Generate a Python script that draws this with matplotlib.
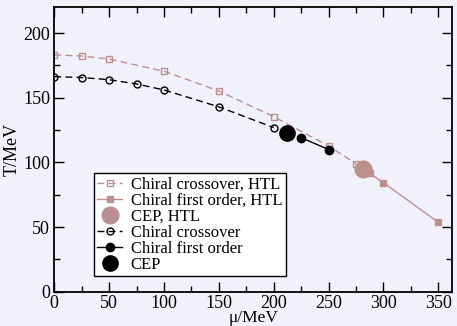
import matplotlib.pyplot as plt

# Chiral transition, HTL
mu_htl_cross = [0, 25, 50, 100, 150, 200, 250, 275]
T_htl_cross = [183.2, 182.3, 180.0, 170.5, 155.3, 135.4, 112.8, 99.0]
mu_htl_first = [287.5, 300, 350]
T_htl_first = [91.5, 84.4, 53.7]
mu_htl_cep = [281]
T_htl_cep = [95]

# Chiral transition, no HTL
mu_cross = [0, 25, 50, 75, 100, 150, 200]
T_cross = [166.4, 165.7, 164.0, 160.7, 156.1, 143.0, 127.0]
mu_first = [225, 250]
T_first = [119.2, 110.0]
mu_cep = [212.5]
T_cep = [122.8]

bg = '#f1f1fb'
htl = '#bc8f8f'

plt.rcParams['font.family'] = ['Liberation Serif', 'DejaVu Serif']

fig = plt.figure(figsize=(4.57, 3.26), dpi=100, facecolor=bg)
ax = fig.add_axes([0.1188, 0.105, 0.8702, 0.8726], facecolor=bg)

ax.plot(mu_htl_cross, T_htl_cross, ls=(0, (5, 3)), color=htl, lw=1,
        marker='s', ms=5, mfc='none', mec=htl, mew=1, label='Chiral crossover, HTL')
ax.plot(mu_htl_first, T_htl_first, ls='-', color=htl, lw=1,
        marker='s', ms=5, mfc=htl, mec=htl, label='Chiral first order, HTL')
ax.plot(mu_htl_cep, T_htl_cep, ls='none', marker='o', ms=12, color=htl,
        label='CEP, HTL')
ax.plot(mu_cross, T_cross, ls=(0, (5, 3)), color='black', lw=1,
        marker='o', ms=5, mfc='none', mec='black', mew=1, label='Chiral crossover')
ax.plot(mu_first, T_first, ls='-', color='black', lw=1,
        marker='o', ms=6, mfc='black', label='Chiral first order')
ax.plot(mu_cep, T_cep, ls='none', marker='o', ms=11, color='black', label='CEP')

ax.set_xlim(0, 362.5)
ax.set_ylim(0, 220)
ax.set_xticks([0, 50, 100, 150, 200, 250, 300, 350])
ax.set_xticks(range(25, 360, 50), minor=True)
ax.set_yticks([0, 50, 100, 150, 200])
ax.set_yticks([25, 75, 125, 175], minor=True)
ax.tick_params(which='both', direction='in', top=True, right=True, labelsize=13, width=1)
ax.tick_params(which='major', length=7, pad=3)
ax.tick_params(axis='x', which='major', pad=2)
ax.tick_params(which='minor', length=4)
for s in ax.spines.values():
    s.set_linewidth(1.3)

ax.set_xlabel('μ/MeV', fontsize=12.5, labelpad=-1)
ax.set_ylabel('T/MeV', fontsize=13, labelpad=2)

leg = ax.legend(loc='lower left', bbox_to_anchor=(0.1, 0.056), fontsize=12,
                frameon=True, fancybox=False, edgecolor='black', framealpha=1,
                facecolor='white', handlelength=1.5, handletextpad=0.5,
                labelspacing=0.0, borderpad=0.2, borderaxespad=0)
leg.get_frame().set_linewidth(1)

fig.savefig('out.png', dpi=100, facecolor=bg)
